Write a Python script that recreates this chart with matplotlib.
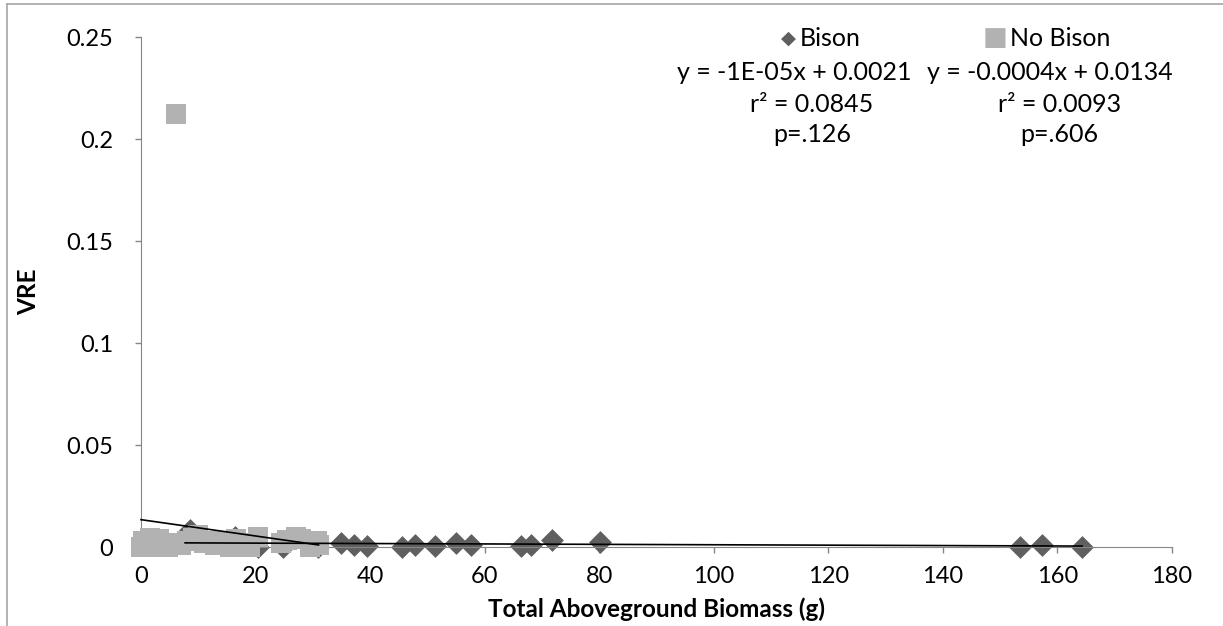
import numpy as np
import matplotlib.pyplot as plt
from matplotlib.lines import Line2D

plt.rcParams['font.family'] = ['Lato', 'DejaVu Sans']

# Bison plots: total aboveground biomass (g) vs VRE
bison_x = [7.7, 8.5, 16.4, 20.5, 24.8, 30.9, 35.0, 37.1, 39.4, 45.6, 47.8, 51.4,
           55.0, 57.6, 66.3, 68.1, 71.8, 80.1, 153.4, 157.3, 164.3]
bison_y = [0.002, 0.0085, 0.005, 0.0, 0.0, 0.0, 0.0018, 0.0012, 0.0003, 0.0,
           0.0008, 0.0003, 0.0018, 0.0012, 0.0004, 0.0012, 0.0035, 0.0025,
           0.0, 0.001, 0.0]

# No Bison plots
nobison_x = [0.0, 0.3, 0.8, 1.5, 2.0, 2.5, 3.2, 4.0, 4.8, 5.5, 6.1, 7.0, 8.0, 9.0,
             10.0, 11.0, 12.0, 13.0, 14.0, 15.5, 16.5, 17.5, 19.0, 20.4, 24.5,
             25.5, 27.0, 28.0, 29.5, 30.8, 31.0]
nobison_y = [0.0, 0.003, 0.001, 0.0045, 0.0, 0.002, 0.004, 0.001, 0.0, 0.002,
             0.2123, 0.001, 0.003, 0.0045, 0.006, 0.002, 0.003, 0.001, 0.003,
             0.0, 0.004, 0.002, 0.0, 0.005, 0.002, 0.0035, 0.005, 0.004, 0.0,
             0.003, 0.001]

# trendline coefficients as reported on the chart
bison_fit = (-1e-05, 0.0021)
nobison_fit = (-0.0004, 0.0134)

x_ticks = [0, 20, 40, 60, 80, 100, 120, 140, 160, 180]
y_ticks = [0, 0.05, 0.1, 0.15, 0.2, 0.25]
y_labels = ['0', '0.05', '0.1', '0.15', '0.2', '0.25']

dark = '#5f5f5f'
light = '#b2b2b2'
axis_grey = '#868686'

fig = plt.figure(figsize=(12.23, 6.26), dpi=100)
ax = fig.add_axes([141 / 1223, 1 - 547 / 626, (1172 - 141) / 1223, (547 - 37) / 626])

ax.scatter(bison_x, bison_y, marker='D', s=135, color=dark, linewidths=0, zorder=2,
           clip_on=False)
ax.scatter(nobison_x, nobison_y, marker='s', s=210, color=light, linewidths=0, zorder=3,
           clip_on=False)

for xs, (m, b) in ((bison_x, bison_fit), (nobison_x, nobison_fit)):
    xx = np.array([min(xs), max(xs)])
    ax.plot(xx, m * xx + b, color='black', lw=1.2, zorder=4, clip_on=False)

ax.set_xlim(0, 180)
ax.set_ylim(0, 0.25)
ax.set_xticks(x_ticks)
ax.set_yticks(y_ticks)
ax.set_yticklabels(y_labels)
ax.tick_params(axis='both', colors=axis_grey, labelcolor='black', labelsize=17,
               length=4, width=1)
ax.tick_params(axis='y', pad=16)
ax.tick_params(axis='x', pad=10)
for s in ('top', 'right'):
    ax.spines[s].set_visible(False)
for s in ('left', 'bottom'):
    ax.spines[s].set_color(axis_grey)
ax.patch.set_visible(False)

ax.set_xlabel('Total Aboveground Biomass (g)', fontsize=17.5, fontweight='bold')
ax.set_ylabel('VRE', fontsize=17.5, fontweight='bold')
ax.xaxis.set_label_coords(0.5, -0.098)
ax.yaxis.set_label_coords(-0.098, 0.5)

# legend + trendline statistics
fs = 18
fig.text(788 / 1223, 1 - 38 / 626, '\u25c6', color=dark, fontsize=14, ha='center', va='center',
         family=['DejaVu Sans'])
fig.text(800 / 1223, 1 - 38 / 626, 'Bison', fontsize=fs, ha='left', va='center')
fig.text(995 / 1223, 1 - 38 / 626, '\u25a0', color=light, fontsize=19, ha='center', va='center',
         family=['DejaVu Sans'])
fig.text(1010 / 1223, 1 - 38 / 626, 'No Bison', fontsize=fs, ha='left', va='center')

fig.text(794 / 1223, 1 - 73 / 626, 'y = -1E-05x + 0.0021', fontsize=fs, ha='center', va='center')
fig.text(812 / 1223, 1 - 104 / 626, 'r\u00b2 = 0.0845', fontsize=fs, ha='center', va='center')
fig.text(812 / 1223, 1 - 135 / 626, 'p=.126', fontsize=fs, ha='center', va='center')
fig.text(1050 / 1223, 1 - 73 / 626, 'y = -0.0004x + 0.0134', fontsize=fs, ha='center', va='center')
fig.text(1060 / 1223, 1 - 104 / 626, 'r\u00b2 = 0.0093', fontsize=fs, ha='center', va='center')
fig.text(1059 / 1223, 1 - 135 / 626, 'p=.606', fontsize=fs, ha='center', va='center')

# chart frame edges (left and top visible in the crop)
fig.add_artist(Line2D([7 / 1223, 7 / 1223], [0, 1 - 4 / 626], transform=fig.transFigure,
                      color='#a6a6a6', lw=1.2))
fig.add_artist(Line2D([7 / 1223, 1], [1 - 4 / 626, 1 - 4 / 626], transform=fig.transFigure,
                      color='#a6a6a6', lw=1.2))

fig.savefig('out.png', dpi=100)
